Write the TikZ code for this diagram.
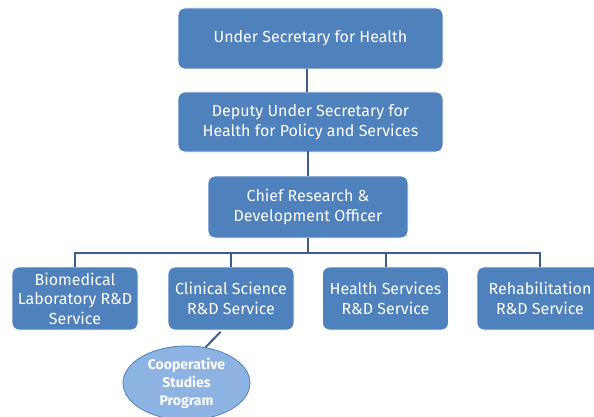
\documentclass[tikz,border=0pt]{standalone}
\usepackage{fontspec}
\setmainfont{Fira Sans}
\usetikzlibrary{
    shapes.geometric,
    calc,
    positioning
}
\definecolor{boxblue}{HTML}{4F81BD}
\definecolor{lineblue}{HTML}{3A5F8F}
\definecolor{ovalblue}{HTML}{8DB3E2}

\begin{document}
\begin{tikzpicture}[x=1pt, y=-1pt,
    unit/.style={draw=white, line width=0.8pt, fill=boxblue, rounded corners=7pt,
        text=white, align=center, inner sep=0pt,
        font=\fontsize{16}{19.5}\selectfont},
    service/.style={unit, minimum width=126pt, minimum height=63pt},
    link/.style={draw=lineblue, line width=2pt}]
    \useasboundingbox (0, 0) rectangle (594, 417);
    % chain of command
    \node[unit, minimum width=265pt, minimum height=61pt] (under) at (310.5, 38.5) {Under Secretary for Health};
    \node[unit, minimum width=265pt, minimum height=60pt] (deputy) at (310.5, 122) {Deputy Under Secretary for\\Health for Policy and Services};
    \node[unit, minimum width=200pt, minimum height=62pt] (chief) at (308, 207) {Chief Research \&\\Development Officer};
    % services
    \node[service] (biomed) at (75, 298.5) {Biomedical\\Laboratory R\&D\\Service};
    \node[service] (clinical) at (231, 298.5) {Clinical Science\\R\&D Service};
    \node[service] (health) at (385.5, 298.5) {Health Services\\R\&D Service};
    \node[service] (rehab) at (540, 298.5) {Rehabilitation\\R\&D Service};
    \node[ellipse, draw=boxblue, line width=0.8pt, fill=ovalblue, text=white, align=center,
        minimum width=127pt, minimum height=74pt, inner sep=0pt,
        font=\fontsize{14}{18}\selectfont\bfseries] (coop) at (186.5, 383) {Cooperative\\Studies\\Program};
    \coordinate (bus) at (308, 253);
    \draw[link] ([xshift=-4pt]under.south) -- ([xshift=-4pt]deputy.north);
    \draw[link] ([xshift=-4pt]deputy.south) -- (deputy.south -| chief.north) -- (chief.north);
    \draw[link] (chief.south) -- (bus);
    \draw[link] (biomed.north) |- (bus) -| (rehab.north);
    \draw[link] (clinical.north) -- (clinical.north |- bus);
    \draw[link] (health.north) -- (health.north |- bus);
    \draw[link, shorten <=2pt] ([xshift=-9pt]clinical.south) -- (coop.62);
\end{tikzpicture}
\end{document}
